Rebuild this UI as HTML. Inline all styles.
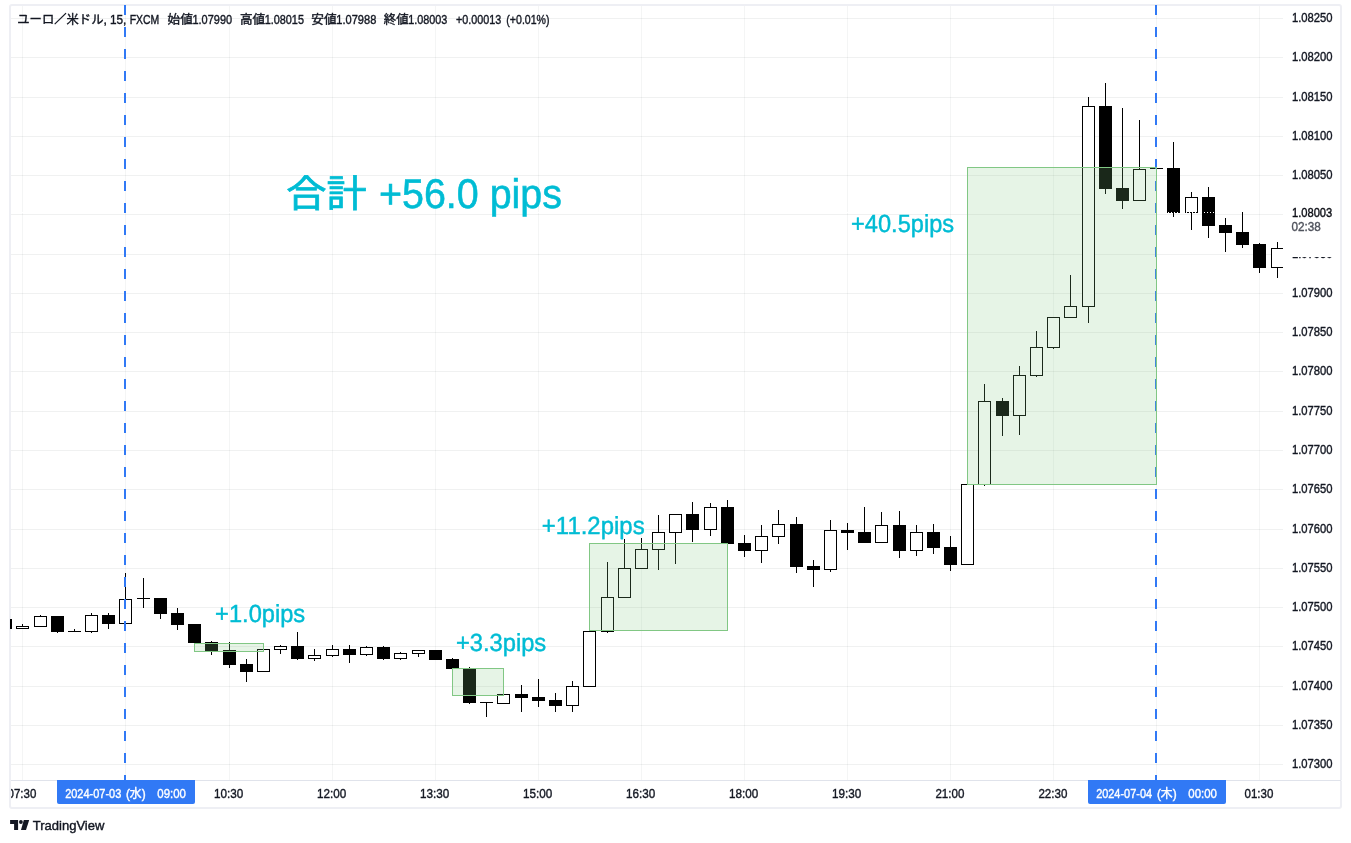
<!DOCTYPE html>
<html lang="ja"><head><meta charset="utf-8"><title>EURUSD 15 - TradingView</title>
<style>html,body{margin:0;padding:0;background:#fff;}body{width:1351px;height:843px;overflow:hidden;position:relative;}svg{position:absolute;left:0;top:0;display:block}text{font-family:"Liberation Sans","Noto Sans CJK JP",sans-serif;}</style></head><body>
<svg width="1351" height="843" viewBox="0 0 1351 843">
<rect x="0" y="0" width="1351" height="843" fill="#ffffff"/>
<defs><clipPath id="pane"><rect x="11" y="5" width="1272" height="775"/></clipPath><clipPath id="pane2"><rect x="10" y="6" width="1273" height="774"/></clipPath></defs>
<g shape-rendering="crispEdges" fill="rgba(30,50,40,0.065)">
<rect x="11" y="18" width="1272" height="1"/>
<rect x="11" y="57" width="1272" height="1"/>
<rect x="11" y="97" width="1272" height="1"/>
<rect x="11" y="136" width="1272" height="1"/>
<rect x="11" y="175" width="1272" height="1"/>
<rect x="11" y="214" width="1272" height="1"/>
<rect x="11" y="254" width="1272" height="1"/>
<rect x="11" y="293" width="1272" height="1"/>
<rect x="11" y="332" width="1272" height="1"/>
<rect x="11" y="371" width="1272" height="1"/>
<rect x="11" y="411" width="1272" height="1"/>
<rect x="11" y="450" width="1272" height="1"/>
<rect x="11" y="489" width="1272" height="1"/>
<rect x="11" y="529" width="1272" height="1"/>
<rect x="11" y="568" width="1272" height="1"/>
<rect x="11" y="607" width="1272" height="1"/>
<rect x="11" y="646" width="1272" height="1"/>
<rect x="11" y="686" width="1272" height="1"/>
<rect x="11" y="725" width="1272" height="1"/>
<rect x="11" y="764" width="1272" height="1"/>
<rect x="22" y="6" width="1" height="774" fill="rgba(30,50,40,0.048)"/>
<rect x="125" y="6" width="1" height="774" fill="rgba(30,50,40,0.048)"/>
<rect x="229" y="6" width="1" height="774" fill="rgba(30,50,40,0.048)"/>
<rect x="332" y="6" width="1" height="774" fill="rgba(30,50,40,0.048)"/>
<rect x="435" y="6" width="1" height="774" fill="rgba(30,50,40,0.048)"/>
<rect x="538" y="6" width="1" height="774" fill="rgba(30,50,40,0.048)"/>
<rect x="641" y="6" width="1" height="774" fill="rgba(30,50,40,0.048)"/>
<rect x="744" y="6" width="1" height="774" fill="rgba(30,50,40,0.048)"/>
<rect x="847" y="6" width="1" height="774" fill="rgba(30,50,40,0.048)"/>
<rect x="950" y="6" width="1" height="774" fill="rgba(30,50,40,0.048)"/>
<rect x="1053" y="6" width="1" height="774" fill="rgba(30,50,40,0.048)"/>
<rect x="1156" y="6" width="1" height="774" fill="rgba(30,50,40,0.048)"/>
<rect x="1259" y="6" width="1" height="774" fill="rgba(30,50,40,0.048)"/>
</g>
<g>
<rect x="10" y="5" width="1331" height="803" rx="2" fill="none" stroke="#eeeff4" stroke-width="2"/>
</g><g shape-rendering="crispEdges">
<rect x="11" y="780" width="1330" height="1" fill="#e0e3eb"/>
<rect x="1341" y="780" width="1" height="1" fill="#f8f9fb"/>
</g>
<g shape-rendering="crispEdges" clip-path="url(#pane2)">
<rect x="-1" y="619" width="13" height="10" fill="#000"/>
<rect x="22" y="624" width="1" height="2" fill="#000"/>
<rect x="16" y="626" width="13" height="3" fill="#000"/>
<rect x="17" y="627" width="11" height="1" fill="#fff"/>
<rect x="40" y="615" width="1" height="1" fill="#000"/>
<rect x="34" y="616" width="13" height="11" fill="#000"/>
<rect x="35" y="617" width="11" height="9" fill="#fff"/>
<rect x="57" y="632" width="1" height="1" fill="#000"/>
<rect x="51" y="616" width="13" height="16" fill="#000"/>
<rect x="74" y="629" width="1" height="2" fill="#000"/>
<rect x="68" y="631" width="13" height="1" fill="#000"/>
<rect x="91" y="613" width="1" height="2" fill="#000"/>
<rect x="91" y="632" width="1" height="1" fill="#000"/>
<rect x="85" y="615" width="13" height="17" fill="#000"/>
<rect x="86" y="616" width="11" height="15" fill="#fff"/>
<rect x="108" y="613" width="1" height="2" fill="#000"/>
<rect x="108" y="624" width="1" height="5" fill="#000"/>
<rect x="102" y="615" width="13" height="9" fill="#000"/>
<rect x="125" y="573" width="1" height="26" fill="#000"/>
<rect x="119" y="599" width="13" height="25" fill="#000"/>
<rect x="120" y="600" width="11" height="23" fill="#fff"/>
<rect x="143" y="578" width="1" height="20" fill="#000"/>
<rect x="143" y="599" width="1" height="9" fill="#000"/>
<rect x="137" y="598" width="13" height="1" fill="#000"/>
<rect x="160" y="614" width="1" height="5" fill="#000"/>
<rect x="154" y="598" width="13" height="16" fill="#000"/>
<rect x="177" y="608" width="1" height="5" fill="#000"/>
<rect x="177" y="625" width="1" height="5" fill="#000"/>
<rect x="171" y="613" width="13" height="12" fill="#000"/>
<rect x="188" y="624" width="13" height="19" fill="#000"/>
<rect x="211" y="641" width="1" height="1" fill="#000"/>
<rect x="211" y="651" width="1" height="4" fill="#000"/>
<rect x="205" y="642" width="13" height="9" fill="#000"/>
<rect x="229" y="642" width="1" height="8" fill="#000"/>
<rect x="229" y="665" width="1" height="3" fill="#000"/>
<rect x="223" y="650" width="13" height="15" fill="#000"/>
<rect x="246" y="659" width="1" height="5" fill="#000"/>
<rect x="246" y="672" width="1" height="10" fill="#000"/>
<rect x="240" y="664" width="13" height="8" fill="#000"/>
<rect x="257" y="649" width="13" height="23" fill="#000"/>
<rect x="258" y="650" width="11" height="21" fill="#fff"/>
<rect x="280" y="645" width="1" height="1" fill="#000"/>
<rect x="280" y="650" width="1" height="4" fill="#000"/>
<rect x="274" y="646" width="13" height="4" fill="#000"/>
<rect x="275" y="647" width="11" height="2" fill="#fff"/>
<rect x="297" y="632" width="1" height="14" fill="#000"/>
<rect x="297" y="659" width="1" height="1" fill="#000"/>
<rect x="291" y="646" width="13" height="13" fill="#000"/>
<rect x="314" y="649" width="1" height="6" fill="#000"/>
<rect x="314" y="659" width="1" height="2" fill="#000"/>
<rect x="308" y="655" width="13" height="4" fill="#000"/>
<rect x="309" y="656" width="11" height="2" fill="#fff"/>
<rect x="332" y="645" width="1" height="4" fill="#000"/>
<rect x="332" y="656" width="1" height="1" fill="#000"/>
<rect x="326" y="649" width="13" height="7" fill="#000"/>
<rect x="327" y="650" width="11" height="5" fill="#fff"/>
<rect x="349" y="645" width="1" height="4" fill="#000"/>
<rect x="349" y="655" width="1" height="8" fill="#000"/>
<rect x="343" y="649" width="13" height="6" fill="#000"/>
<rect x="366" y="646" width="1" height="1" fill="#000"/>
<rect x="366" y="655" width="1" height="1" fill="#000"/>
<rect x="360" y="647" width="13" height="8" fill="#000"/>
<rect x="361" y="648" width="11" height="6" fill="#fff"/>
<rect x="383" y="646" width="1" height="1" fill="#000"/>
<rect x="383" y="659" width="1" height="1" fill="#000"/>
<rect x="377" y="647" width="13" height="12" fill="#000"/>
<rect x="400" y="652" width="1" height="1" fill="#000"/>
<rect x="400" y="659" width="1" height="1" fill="#000"/>
<rect x="394" y="653" width="13" height="6" fill="#000"/>
<rect x="395" y="654" width="11" height="4" fill="#fff"/>
<rect x="418" y="654" width="1" height="3" fill="#000"/>
<rect x="412" y="650" width="13" height="4" fill="#000"/>
<rect x="413" y="651" width="11" height="2" fill="#fff"/>
<rect x="429" y="650" width="13" height="10" fill="#000"/>
<rect x="452" y="658" width="1" height="1" fill="#000"/>
<rect x="446" y="659" width="13" height="10" fill="#000"/>
<rect x="469" y="667" width="1" height="2" fill="#000"/>
<rect x="469" y="703" width="1" height="1" fill="#000"/>
<rect x="463" y="669" width="13" height="34" fill="#000"/>
<rect x="486" y="703" width="1" height="14" fill="#000"/>
<rect x="480" y="702" width="13" height="1" fill="#000"/>
<rect x="497" y="694" width="13" height="10" fill="#000"/>
<rect x="498" y="695" width="11" height="8" fill="#fff"/>
<rect x="521" y="685" width="1" height="9" fill="#000"/>
<rect x="521" y="698" width="1" height="14" fill="#000"/>
<rect x="515" y="694" width="13" height="4" fill="#000"/>
<rect x="538" y="679" width="1" height="18" fill="#000"/>
<rect x="538" y="701" width="1" height="6" fill="#000"/>
<rect x="532" y="697" width="13" height="4" fill="#000"/>
<rect x="555" y="693" width="1" height="7" fill="#000"/>
<rect x="555" y="706" width="1" height="6" fill="#000"/>
<rect x="549" y="700" width="13" height="6" fill="#000"/>
<rect x="572" y="681" width="1" height="5" fill="#000"/>
<rect x="572" y="706" width="1" height="6" fill="#000"/>
<rect x="566" y="686" width="13" height="20" fill="#000"/>
<rect x="567" y="687" width="11" height="18" fill="#fff"/>
<rect x="583" y="631" width="13" height="56" fill="#000"/>
<rect x="584" y="632" width="11" height="54" fill="#fff"/>
<rect x="607" y="562" width="1" height="35" fill="#000"/>
<rect x="607" y="632" width="1" height="1" fill="#000"/>
<rect x="601" y="597" width="13" height="35" fill="#000"/>
<rect x="602" y="598" width="11" height="33" fill="#fff"/>
<rect x="624" y="539" width="1" height="29" fill="#000"/>
<rect x="618" y="568" width="13" height="30" fill="#000"/>
<rect x="619" y="569" width="11" height="28" fill="#fff"/>
<rect x="641" y="538" width="1" height="11" fill="#000"/>
<rect x="635" y="549" width="13" height="20" fill="#000"/>
<rect x="636" y="550" width="11" height="18" fill="#fff"/>
<rect x="658" y="515" width="1" height="17" fill="#000"/>
<rect x="658" y="550" width="1" height="20" fill="#000"/>
<rect x="652" y="532" width="13" height="18" fill="#000"/>
<rect x="653" y="533" width="11" height="16" fill="#fff"/>
<rect x="675" y="533" width="1" height="31" fill="#000"/>
<rect x="669" y="514" width="13" height="19" fill="#000"/>
<rect x="670" y="515" width="11" height="17" fill="#fff"/>
<rect x="692" y="502" width="1" height="12" fill="#000"/>
<rect x="692" y="530" width="1" height="12" fill="#000"/>
<rect x="686" y="514" width="13" height="16" fill="#000"/>
<rect x="710" y="503" width="1" height="4" fill="#000"/>
<rect x="710" y="530" width="1" height="6" fill="#000"/>
<rect x="704" y="507" width="13" height="23" fill="#000"/>
<rect x="705" y="508" width="11" height="21" fill="#fff"/>
<rect x="727" y="500" width="1" height="7" fill="#000"/>
<rect x="721" y="507" width="13" height="37" fill="#000"/>
<rect x="744" y="535" width="1" height="8" fill="#000"/>
<rect x="744" y="551" width="1" height="6" fill="#000"/>
<rect x="738" y="543" width="13" height="8" fill="#000"/>
<rect x="761" y="525" width="1" height="11" fill="#000"/>
<rect x="761" y="551" width="1" height="12" fill="#000"/>
<rect x="755" y="536" width="13" height="15" fill="#000"/>
<rect x="756" y="537" width="11" height="13" fill="#fff"/>
<rect x="778" y="510" width="1" height="14" fill="#000"/>
<rect x="778" y="537" width="1" height="7" fill="#000"/>
<rect x="772" y="524" width="13" height="13" fill="#000"/>
<rect x="773" y="525" width="11" height="11" fill="#fff"/>
<rect x="796" y="517" width="1" height="7" fill="#000"/>
<rect x="796" y="567" width="1" height="6" fill="#000"/>
<rect x="790" y="524" width="13" height="43" fill="#000"/>
<rect x="813" y="560" width="1" height="6" fill="#000"/>
<rect x="813" y="570" width="1" height="17" fill="#000"/>
<rect x="807" y="566" width="13" height="4" fill="#000"/>
<rect x="830" y="520" width="1" height="10" fill="#000"/>
<rect x="830" y="570" width="1" height="2" fill="#000"/>
<rect x="824" y="530" width="13" height="40" fill="#000"/>
<rect x="825" y="531" width="11" height="38" fill="#fff"/>
<rect x="847" y="523" width="1" height="7" fill="#000"/>
<rect x="847" y="533" width="1" height="17" fill="#000"/>
<rect x="841" y="530" width="13" height="3" fill="#000"/>
<rect x="864" y="507" width="1" height="25" fill="#000"/>
<rect x="858" y="532" width="13" height="11" fill="#000"/>
<rect x="881" y="512" width="1" height="13" fill="#000"/>
<rect x="875" y="525" width="13" height="18" fill="#000"/>
<rect x="876" y="526" width="11" height="16" fill="#fff"/>
<rect x="899" y="511" width="1" height="14" fill="#000"/>
<rect x="899" y="551" width="1" height="7" fill="#000"/>
<rect x="893" y="525" width="13" height="26" fill="#000"/>
<rect x="916" y="525" width="1" height="7" fill="#000"/>
<rect x="916" y="551" width="1" height="5" fill="#000"/>
<rect x="910" y="532" width="13" height="19" fill="#000"/>
<rect x="911" y="533" width="11" height="17" fill="#fff"/>
<rect x="933" y="524" width="1" height="8" fill="#000"/>
<rect x="933" y="548" width="1" height="6" fill="#000"/>
<rect x="927" y="532" width="13" height="16" fill="#000"/>
<rect x="950" y="536" width="1" height="11" fill="#000"/>
<rect x="950" y="565" width="1" height="6" fill="#000"/>
<rect x="944" y="547" width="13" height="18" fill="#000"/>
<rect x="961" y="484" width="13" height="81" fill="#000"/>
<rect x="962" y="485" width="11" height="79" fill="#fff"/>
<rect x="984" y="384" width="1" height="17" fill="#000"/>
<rect x="984" y="485" width="1" height="1" fill="#000"/>
<rect x="978" y="401" width="13" height="84" fill="#000"/>
<rect x="979" y="402" width="11" height="82" fill="#fff"/>
<rect x="1002" y="398" width="1" height="3" fill="#000"/>
<rect x="1002" y="416" width="1" height="20" fill="#000"/>
<rect x="996" y="401" width="13" height="15" fill="#000"/>
<rect x="1019" y="366" width="1" height="9" fill="#000"/>
<rect x="1019" y="416" width="1" height="19" fill="#000"/>
<rect x="1013" y="375" width="13" height="41" fill="#000"/>
<rect x="1014" y="376" width="11" height="39" fill="#fff"/>
<rect x="1036" y="331" width="1" height="16" fill="#000"/>
<rect x="1036" y="376" width="1" height="1" fill="#000"/>
<rect x="1030" y="347" width="13" height="29" fill="#000"/>
<rect x="1031" y="348" width="11" height="27" fill="#fff"/>
<rect x="1053" y="348" width="1" height="1" fill="#000"/>
<rect x="1047" y="317" width="13" height="31" fill="#000"/>
<rect x="1048" y="318" width="11" height="29" fill="#fff"/>
<rect x="1070" y="275" width="1" height="31" fill="#000"/>
<rect x="1064" y="306" width="13" height="12" fill="#000"/>
<rect x="1065" y="307" width="11" height="10" fill="#fff"/>
<rect x="1088" y="97" width="1" height="9" fill="#000"/>
<rect x="1088" y="307" width="1" height="16" fill="#000"/>
<rect x="1082" y="106" width="13" height="201" fill="#000"/>
<rect x="1083" y="107" width="11" height="199" fill="#fff"/>
<rect x="1105" y="83" width="1" height="23" fill="#000"/>
<rect x="1105" y="189" width="1" height="5" fill="#000"/>
<rect x="1099" y="106" width="13" height="83" fill="#000"/>
<rect x="1122" y="108" width="1" height="80" fill="#000"/>
<rect x="1122" y="201" width="1" height="8" fill="#000"/>
<rect x="1116" y="188" width="13" height="13" fill="#000"/>
<rect x="1139" y="120" width="1" height="49" fill="#000"/>
<rect x="1133" y="169" width="13" height="32" fill="#000"/>
<rect x="1134" y="170" width="11" height="30" fill="#fff"/>
<rect x="1150" y="168" width="13" height="1" fill="#000"/>
<rect x="1173" y="142" width="1" height="26" fill="#000"/>
<rect x="1173" y="213" width="1" height="4" fill="#000"/>
<rect x="1167" y="168" width="13" height="45" fill="#000"/>
<rect x="1191" y="192" width="1" height="5" fill="#000"/>
<rect x="1191" y="213" width="1" height="17" fill="#000"/>
<rect x="1185" y="197" width="13" height="16" fill="#000"/>
<rect x="1186" y="198" width="11" height="14" fill="#fff"/>
<rect x="1208" y="187" width="1" height="10" fill="#000"/>
<rect x="1208" y="226" width="1" height="12" fill="#000"/>
<rect x="1202" y="197" width="13" height="29" fill="#000"/>
<rect x="1225" y="218" width="1" height="7" fill="#000"/>
<rect x="1225" y="233" width="1" height="19" fill="#000"/>
<rect x="1219" y="225" width="13" height="8" fill="#000"/>
<rect x="1242" y="212" width="1" height="20" fill="#000"/>
<rect x="1242" y="245" width="1" height="3" fill="#000"/>
<rect x="1236" y="232" width="13" height="13" fill="#000"/>
<rect x="1259" y="243" width="1" height="1" fill="#000"/>
<rect x="1259" y="268" width="1" height="5" fill="#000"/>
<rect x="1253" y="244" width="13" height="24" fill="#000"/>
<rect x="1277" y="242" width="1" height="6" fill="#000"/>
<rect x="1277" y="268" width="1" height="10" fill="#000"/>
<rect x="1271" y="248" width="13" height="20" fill="#000"/>
<rect x="1272" y="249" width="11" height="18" fill="#fff"/>
</g>
<g shape-rendering="crispEdges" clip-path="url(#pane)"><line x1="13" y1="212.5" x2="1283" y2="212.5" stroke="#fff" stroke-width="1" stroke-dasharray="1 2"/></g>
<g shape-rendering="crispEdges" fill="#3179f5" clip-path="url(#pane)">
<rect x="124" y="5" width="2" height="10"/>
<rect x="124" y="27" width="2" height="10"/>
<rect x="124" y="49" width="2" height="10"/>
<rect x="124" y="71" width="2" height="10"/>
<rect x="124" y="93" width="2" height="10"/>
<rect x="124" y="115" width="2" height="10"/>
<rect x="124" y="137" width="2" height="10"/>
<rect x="124" y="159" width="2" height="10"/>
<rect x="124" y="181" width="2" height="10"/>
<rect x="124" y="203" width="2" height="10"/>
<rect x="124" y="225" width="2" height="10"/>
<rect x="124" y="247" width="2" height="10"/>
<rect x="124" y="269" width="2" height="10"/>
<rect x="124" y="291" width="2" height="10"/>
<rect x="124" y="313" width="2" height="10"/>
<rect x="124" y="335" width="2" height="10"/>
<rect x="124" y="357" width="2" height="10"/>
<rect x="124" y="379" width="2" height="10"/>
<rect x="124" y="401" width="2" height="10"/>
<rect x="124" y="423" width="2" height="10"/>
<rect x="124" y="445" width="2" height="10"/>
<rect x="124" y="467" width="2" height="10"/>
<rect x="124" y="489" width="2" height="10"/>
<rect x="124" y="511" width="2" height="10"/>
<rect x="124" y="533" width="2" height="10"/>
<rect x="124" y="555" width="2" height="10"/>
<rect x="124" y="577" width="2" height="10"/>
<rect x="124" y="599" width="2" height="10"/>
<rect x="124" y="621" width="2" height="10"/>
<rect x="124" y="643" width="2" height="10"/>
<rect x="124" y="665" width="2" height="10"/>
<rect x="124" y="687" width="2" height="10"/>
<rect x="124" y="709" width="2" height="10"/>
<rect x="124" y="731" width="2" height="10"/>
<rect x="124" y="753" width="2" height="10"/>
<rect x="124" y="775" width="2" height="10"/>
<rect x="1155" y="5" width="2" height="10"/>
<rect x="1155" y="27" width="2" height="10"/>
<rect x="1155" y="49" width="2" height="10"/>
<rect x="1155" y="71" width="2" height="10"/>
<rect x="1155" y="93" width="2" height="10"/>
<rect x="1155" y="115" width="2" height="10"/>
<rect x="1155" y="137" width="2" height="10"/>
<rect x="1155" y="159" width="2" height="10"/>
<rect x="1155" y="181" width="2" height="10"/>
<rect x="1155" y="203" width="2" height="10"/>
<rect x="1155" y="225" width="2" height="10"/>
<rect x="1155" y="247" width="2" height="10"/>
<rect x="1155" y="269" width="2" height="10"/>
<rect x="1155" y="291" width="2" height="10"/>
<rect x="1155" y="313" width="2" height="10"/>
<rect x="1155" y="335" width="2" height="10"/>
<rect x="1155" y="357" width="2" height="10"/>
<rect x="1155" y="379" width="2" height="10"/>
<rect x="1155" y="401" width="2" height="10"/>
<rect x="1155" y="423" width="2" height="10"/>
<rect x="1155" y="445" width="2" height="10"/>
<rect x="1155" y="467" width="2" height="10"/>
<rect x="1155" y="489" width="2" height="10"/>
<rect x="1155" y="511" width="2" height="10"/>
<rect x="1155" y="533" width="2" height="10"/>
<rect x="1155" y="555" width="2" height="10"/>
<rect x="1155" y="577" width="2" height="10"/>
<rect x="1155" y="599" width="2" height="10"/>
<rect x="1155" y="621" width="2" height="10"/>
<rect x="1155" y="643" width="2" height="10"/>
<rect x="1155" y="665" width="2" height="10"/>
<rect x="1155" y="687" width="2" height="10"/>
<rect x="1155" y="709" width="2" height="10"/>
<rect x="1155" y="731" width="2" height="10"/>
<rect x="1155" y="753" width="2" height="10"/>
<rect x="1155" y="775" width="2" height="10"/>
</g>
<g shape-rendering="crispEdges">
<rect x="194.5" y="643.5" width="69" height="8" fill="rgba(129,199,132,0.2)" stroke="#81c784" stroke-width="1"/>
<rect x="452.5" y="668.5" width="51" height="27" fill="rgba(129,199,132,0.2)" stroke="#81c784" stroke-width="1"/>
<rect x="589.5" y="543.5" width="138" height="87" fill="rgba(129,199,132,0.2)" stroke="#81c784" stroke-width="1"/>
<rect x="967.5" y="167.5" width="189" height="317" fill="rgba(129,199,132,0.2)" stroke="#81c784" stroke-width="1"/>
</g>
<text x="286.37" y="207.1" font-size="37.8" fill="#00bcd4" textLength="80.33" lengthAdjust="spacingAndGlyphs" stroke="#00bcd4" stroke-width="0.7" text-rendering="geometricPrecision">合計</text>
<text x="378.94" y="208.3" font-size="41.4" fill="#00bcd4" textLength="183.08" lengthAdjust="spacingAndGlyphs" stroke="#00bcd4" stroke-width="0.55" text-rendering="geometricPrecision">+56.0 pips</text>
<text x="851.05" y="231.7" font-size="24.7" fill="#00bcd4" textLength="103.02" lengthAdjust="spacingAndGlyphs" stroke="#00bcd4" stroke-width="0.45" text-rendering="geometricPrecision">+40.5pips</text>
<text x="541.86" y="533.7" font-size="24.7" fill="#00bcd4" textLength="102.75" lengthAdjust="spacingAndGlyphs" stroke="#00bcd4" stroke-width="0.45" text-rendering="geometricPrecision">+11.2pips</text>
<text x="215.1" y="621.7" font-size="24.7" fill="#00bcd4" textLength="90.07" lengthAdjust="spacingAndGlyphs" stroke="#00bcd4" stroke-width="0.45" text-rendering="geometricPrecision">+1.0pips</text>
<text x="455.89" y="650.8" font-size="24.7" fill="#00bcd4" textLength="90.36" lengthAdjust="spacingAndGlyphs" stroke="#00bcd4" stroke-width="0.45" text-rendering="geometricPrecision">+3.3pips</text>
<text x="1291.93" y="22" font-size="13" fill="#131722" textLength="40.66" lengthAdjust="spacingAndGlyphs" stroke="#131722" stroke-width="0.4">1.08250</text>
<text x="1291.93" y="61" font-size="13" fill="#131722" textLength="40.66" lengthAdjust="spacingAndGlyphs" stroke="#131722" stroke-width="0.4">1.08200</text>
<text x="1291.93" y="101" font-size="13" fill="#131722" textLength="40.66" lengthAdjust="spacingAndGlyphs" stroke="#131722" stroke-width="0.4">1.08150</text>
<text x="1291.93" y="140" font-size="13" fill="#131722" textLength="40.66" lengthAdjust="spacingAndGlyphs" stroke="#131722" stroke-width="0.4">1.08100</text>
<text x="1291.93" y="179" font-size="13" fill="#131722" textLength="40.66" lengthAdjust="spacingAndGlyphs" stroke="#131722" stroke-width="0.4">1.08050</text>
<text x="1291.93" y="258" font-size="13" fill="#131722" textLength="40.66" lengthAdjust="spacingAndGlyphs" stroke="#131722" stroke-width="0.4">1.07950</text>
<text x="1291.93" y="297" font-size="13" fill="#131722" textLength="40.66" lengthAdjust="spacingAndGlyphs" stroke="#131722" stroke-width="0.4">1.07900</text>
<text x="1291.93" y="336" font-size="13" fill="#131722" textLength="40.66" lengthAdjust="spacingAndGlyphs" stroke="#131722" stroke-width="0.4">1.07850</text>
<text x="1291.93" y="375" font-size="13" fill="#131722" textLength="40.66" lengthAdjust="spacingAndGlyphs" stroke="#131722" stroke-width="0.4">1.07800</text>
<text x="1291.93" y="415" font-size="13" fill="#131722" textLength="40.66" lengthAdjust="spacingAndGlyphs" stroke="#131722" stroke-width="0.4">1.07750</text>
<text x="1291.93" y="454" font-size="13" fill="#131722" textLength="40.66" lengthAdjust="spacingAndGlyphs" stroke="#131722" stroke-width="0.4">1.07700</text>
<text x="1291.93" y="493" font-size="13" fill="#131722" textLength="40.66" lengthAdjust="spacingAndGlyphs" stroke="#131722" stroke-width="0.4">1.07650</text>
<text x="1291.93" y="533" font-size="13" fill="#131722" textLength="40.66" lengthAdjust="spacingAndGlyphs" stroke="#131722" stroke-width="0.4">1.07600</text>
<text x="1291.93" y="572" font-size="13" fill="#131722" textLength="40.66" lengthAdjust="spacingAndGlyphs" stroke="#131722" stroke-width="0.4">1.07550</text>
<text x="1291.93" y="611" font-size="13" fill="#131722" textLength="40.66" lengthAdjust="spacingAndGlyphs" stroke="#131722" stroke-width="0.4">1.07500</text>
<text x="1291.93" y="650" font-size="13" fill="#131722" textLength="40.66" lengthAdjust="spacingAndGlyphs" stroke="#131722" stroke-width="0.4">1.07450</text>
<text x="1291.93" y="690" font-size="13" fill="#131722" textLength="40.66" lengthAdjust="spacingAndGlyphs" stroke="#131722" stroke-width="0.4">1.07400</text>
<text x="1291.93" y="729" font-size="13" fill="#131722" textLength="40.66" lengthAdjust="spacingAndGlyphs" stroke="#131722" stroke-width="0.4">1.07350</text>
<text x="1291.93" y="768" font-size="13" fill="#131722" textLength="40.66" lengthAdjust="spacingAndGlyphs" stroke="#131722" stroke-width="0.4">1.07300</text>
<rect x="1284" y="203" width="56" height="54" fill="#fff"/>
<text x="1291.94" y="217" font-size="13" fill="#0c0e15" textLength="40.32" lengthAdjust="spacingAndGlyphs" stroke="#0c0e15" stroke-width="0.4">1.08003</text>
<text x="1291.41" y="231" font-size="13" fill="#4f525c" textLength="29.32" lengthAdjust="spacingAndGlyphs" stroke="#4f525c" stroke-width="0.4">02:38</text>
<defs><clipPath id="axis"><rect x="11" y="781" width="1329" height="26"/></clipPath></defs>
<g clip-path="url(#axis)">
<text x="7.51" y="798" font-size="13" fill="#131722" textLength="28.84" lengthAdjust="spacingAndGlyphs" stroke="#131722" stroke-width="0.4">07:30</text>
<text x="214.1" y="798" font-size="13" fill="#131722" textLength="29.26" lengthAdjust="spacingAndGlyphs" stroke="#131722" stroke-width="0.4">10:30</text>
<text x="317.1" y="798" font-size="13" fill="#131722" textLength="29.26" lengthAdjust="spacingAndGlyphs" stroke="#131722" stroke-width="0.4">12:00</text>
<text x="420.1" y="798" font-size="13" fill="#131722" textLength="29.26" lengthAdjust="spacingAndGlyphs" stroke="#131722" stroke-width="0.4">13:30</text>
<text x="523.1" y="798" font-size="13" fill="#131722" textLength="29.26" lengthAdjust="spacingAndGlyphs" stroke="#131722" stroke-width="0.4">15:00</text>
<text x="626.1" y="798" font-size="13" fill="#131722" textLength="29.26" lengthAdjust="spacingAndGlyphs" stroke="#131722" stroke-width="0.4">16:30</text>
<text x="729.1" y="798" font-size="13" fill="#131722" textLength="29.26" lengthAdjust="spacingAndGlyphs" stroke="#131722" stroke-width="0.4">18:00</text>
<text x="832.1" y="798" font-size="13" fill="#131722" textLength="29.26" lengthAdjust="spacingAndGlyphs" stroke="#131722" stroke-width="0.4">19:30</text>
<text x="935.4" y="798" font-size="13" fill="#131722" textLength="28.96" lengthAdjust="spacingAndGlyphs" stroke="#131722" stroke-width="0.4">21:00</text>
<text x="1038.4" y="798" font-size="13" fill="#131722" textLength="28.96" lengthAdjust="spacingAndGlyphs" stroke="#131722" stroke-width="0.4">22:30</text>
<text x="1244.51" y="798" font-size="13" fill="#131722" textLength="28.84" lengthAdjust="spacingAndGlyphs" stroke="#131722" stroke-width="0.4">01:30</text>
</g>
<path d="M57 780H195V802a2 2 0 0 1-2 2H59a2 2 0 0 1-2-2Z" fill="#3179f5"/>
<path d="M1088 780H1226V802a2 2 0 0 1-2 2H1090a2 2 0 0 1-2-2Z" fill="#3179f5"/>
<text x="65.13" y="798" font-size="13" fill="#fff" textLength="56.13" lengthAdjust="spacingAndGlyphs" stroke="#fff" stroke-width="0.4">2024-07-03</text>
<text x="125.92" y="798" font-size="12" fill="#fff" textLength="19.76" lengthAdjust="spacingAndGlyphs" stroke="#fff" stroke-width="0.4">(水)</text>
<text x="157.32" y="798" font-size="13" fill="#fff" textLength="28.63" lengthAdjust="spacingAndGlyphs" stroke="#fff" stroke-width="0.4">09:00</text>
<text x="1096.13" y="798" font-size="13" fill="#fff" textLength="55.91" lengthAdjust="spacingAndGlyphs" stroke="#fff" stroke-width="0.4">2024-07-04</text>
<text x="1156.92" y="798" font-size="12" fill="#fff" textLength="19.76" lengthAdjust="spacingAndGlyphs" stroke="#fff" stroke-width="0.4">(木)</text>
<text x="1188.32" y="798" font-size="13" fill="#fff" textLength="28.63" lengthAdjust="spacingAndGlyphs" stroke="#fff" stroke-width="0.4">00:00</text>
<text x="17.27" y="24" font-size="12" fill="#131722" textLength="89.66" lengthAdjust="spacingAndGlyphs" stroke="#131722" stroke-width="0.4">ユーロ／米ドル,</text>
<text x="109.89" y="24" font-size="13" fill="#131722" textLength="16.47" lengthAdjust="spacingAndGlyphs" stroke="#131722" stroke-width="0.4">15,</text>
<text x="129.64" y="24" font-size="13" fill="#131722" textLength="29.55" lengthAdjust="spacingAndGlyphs" stroke="#131722" stroke-width="0.4">FXCM</text>
<text x="167.63" y="24" font-size="12" fill="#131722" textLength="25.25" lengthAdjust="spacingAndGlyphs" stroke="#131722" stroke-width="0.4">始値</text>
<text x="192.46" y="24" font-size="13" fill="#131722" textLength="39.62" lengthAdjust="spacingAndGlyphs" stroke="#131722" stroke-width="0.4">1.07990</text>
<text x="239.94" y="24" font-size="12" fill="#131722" textLength="25.13" lengthAdjust="spacingAndGlyphs" stroke="#131722" stroke-width="0.4">高値</text>
<text x="264.66" y="24" font-size="13" fill="#131722" textLength="39.28" lengthAdjust="spacingAndGlyphs" stroke="#131722" stroke-width="0.4">1.08015</text>
<text x="311.3" y="24" font-size="12" fill="#131722" textLength="25.38" lengthAdjust="spacingAndGlyphs" stroke="#131722" stroke-width="0.4">安値</text>
<text x="336.35" y="24" font-size="13" fill="#131722" textLength="39.99" lengthAdjust="spacingAndGlyphs" stroke="#131722" stroke-width="0.4">1.07988</text>
<text x="383.74" y="24" font-size="12" fill="#131722" textLength="24.83" lengthAdjust="spacingAndGlyphs" stroke="#131722" stroke-width="0.4">終値</text>
<text x="408.17" y="24" font-size="13" fill="#131722" textLength="39.18" lengthAdjust="spacingAndGlyphs" stroke="#131722" stroke-width="0.4">1.08003</text>
<text x="456.07" y="24" font-size="13" fill="#131722" textLength="45.27" lengthAdjust="spacingAndGlyphs" stroke="#131722" stroke-width="0.4">+0.00013</text>
<text x="506.3" y="24" font-size="13" fill="#131722" textLength="43.23" lengthAdjust="spacingAndGlyphs" stroke="#131722" stroke-width="0.4">(+0.01%)</text>
<g fill="#131722"><path d="M10.1 820H18.1V830H14.1V823.9H10.1Z"/><circle cx="20.9" cy="822" r="1.9"/><path d="M23.8 820H29.2L26 830H21Z"/></g>
<text x="32.69" y="830" font-size="13" fill="#131722" textLength="71.74" lengthAdjust="spacingAndGlyphs" stroke="#131722" stroke-width="0.4">TradingView</text>
</svg></body></html>
